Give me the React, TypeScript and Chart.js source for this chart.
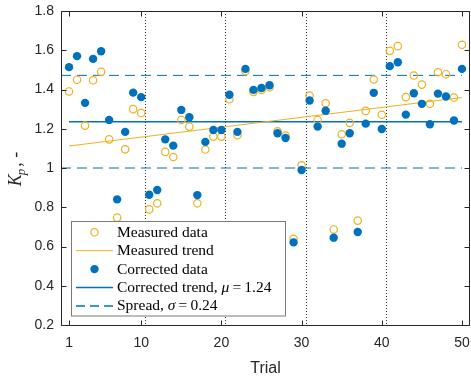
import React, { useEffect, useRef } from "react";
import { Chart, registerables } from "chart.js";

Chart.register(...registerables);

// ---------- data ----------
const trials = [
  1, 2, 3, 4, 5, 6, 7, 8, 9, 10,
  11, 12, 13, 14, 15, 16, 17, 18, 19, 20,
  21, 22, 23, 24, 25, 26, 27, 28, 29, 30,
  31, 32, 33, 34, 35, 36, 37, 38, 39, 40,
  41, 42, 43, 44, 45, 46, 47, 48, 49, 50,
];

const measuredData = [
  1.39, 1.45, 1.216, 1.447, 1.49, 1.146, 0.747, 1.095, 1.3, 1.28,
  0.789, 0.82, 1.082, 1.056, 1.245, 1.211, 0.82, 1.094, 1.16, 1.16,
  1.35, 1.167, 1.493, 1.388, 1.398, 1.412, 1.187, 1.165, 0.639, 1.014,
  1.369, 1.245, 1.33, 0.687, 1.172, 1.23, 0.732, 1.291, 1.451, 1.271,
  1.597, 1.621, 1.361, 1.471, 1.425, 1.327, 1.488, 1.478, 1.359, 1.628,
];

const correctedData = [
  1.514, 1.57, 1.332, 1.556, 1.595, 1.245, 0.84, 1.184, 1.384, 1.361,
  0.864, 0.888, 1.146, 1.114, 1.296, 1.259, 0.862, 1.133, 1.194, 1.194,
  1.373, 1.184, 1.505, 1.398, 1.408, 1.422, 1.177, 1.153, 0.621, 0.99,
  1.344, 1.211, 1.292, 0.645, 1.124, 1.177, 0.674, 1.226, 1.383, 1.199,
  1.519, 1.539, 1.272, 1.381, 1.327, 1.223, 1.379, 1.364, 1.242, 1.505,
];

const trendTrials = [1, 50];
const measuredTrend = [1.112, 1.359];

const correctedMean = 1.236;
const spreadSigma = 0.236;
const meanTrials = [1, 50];
const spreadTrials = [0, 50];

const blockBoundaries = [10.5, 20.5, 30.5, 40.5];
const xTickValues = [1, 10, 20, 30, 40, 50];
const yTickValues = [0.2, 0.4, 0.6, 0.8, 1, 1.2, 1.4, 1.6, 1.8];

const ORANGE = "#EDB120";
const BLUE = "#0072BD";
const AXIS = "#262626";

const pts = (xs: number[], ys: number[]) => xs.map((x, i) => ({ x, y: ys[i] }));

const decorPlugin = {
  id: "decor",
  beforeDatasetsDraw(chart: any) {
    const { ctx, chartArea, scales } = chart;
    const { top, bottom } = chartArea;
    ctx.save();
    ctx.strokeStyle = "#333333";
    ctx.lineWidth = 1;
    ctx.setLineDash([1, 2]);
    for (const b of blockBoundaries) {
      const px = Math.round(scales.x.getPixelForValue(b)) + 0.5;
      ctx.beginPath();
      ctx.moveTo(px, top);
      ctx.lineTo(px, bottom);
      ctx.stroke();
    }
    ctx.restore();
  },
  afterDraw(chart: any) {
    const { ctx, chartArea, scales } = chart;
    const { left, right, top, bottom } = chartArea;
    ctx.save();
    // frame
    ctx.strokeStyle = AXIS;
    ctx.lineWidth = 1;
    ctx.setLineDash([]);
    const L = Math.round(left) + 0.5;
    const R = Math.round(right) - 0.5;
    const T = Math.round(top) + 0.5;
    const B = Math.round(bottom) + 0.5;
    ctx.beginPath();
    ctx.rect(L, T, R - L, B - T);
    ctx.stroke();
    // inward ticks
    const tl = 5;
    ctx.beginPath();
    for (const v of xTickValues) {
      const px = Math.round(scales.x.getPixelForValue(v)) + 0.5;
      ctx.moveTo(px, B);
      ctx.lineTo(px, B - tl);
      ctx.moveTo(px, T);
      ctx.lineTo(px, T + tl);
    }
    for (const v of yTickValues) {
      const py = Math.round(scales.y.getPixelForValue(v)) + 0.5;
      ctx.moveTo(L, py);
      ctx.lineTo(L + tl, py);
      ctx.moveTo(R, py);
      ctx.lineTo(R - tl, py);
    }
    ctx.stroke();

    // y-axis label  K_p, -
    ctx.save();
    ctx.translate(15, (top + bottom) / 2 + 1);
    ctx.rotate(-Math.PI / 2);
    ctx.fillStyle = AXIS;
    ctx.textBaseline = "alphabetic";
    ctx.textAlign = "left";
    const fK = 'italic 18px "Liberation Serif"';
    const fp = 'italic 13px "Liberation Serif"';
    const fr = '18px "Liberation Serif"';
    ctx.font = fK;
    const wK = ctx.measureText("K").width;
    ctx.font = fp;
    const wp = ctx.measureText("p").width;
    ctx.font = fr;
    const wr = ctx.measureText(", -").width;
    const total = wK + wp + 1 + wr;
    let cx = -total / 2;
    ctx.font = fK;
    ctx.fillText("K", cx, 6);
    cx += wK - 1;
    ctx.font = fp;
    ctx.fillText("p", cx, 10);
    cx += wp + 2;
    ctx.font = fr;
    ctx.fillText(", -", cx, 6);
    ctx.restore();

    // legend
    const bx = Math.round(left) + 10.5;
    const by = Math.round(bottom) - 103.5;
    const bw = 214;
    const bh = 94.5;
    ctx.fillStyle = "#ffffff";
    ctx.fillRect(bx, by, bw, bh);
    ctx.strokeStyle = "#7a7a7a";
    ctx.lineWidth = 1;
    ctx.strokeRect(bx, by, bw, bh);

    const legendFont = '15.5px "Liberation Serif"';
    const legendItalic = 'italic 15.5px "Liberation Serif"';
    const entries: { kind: string; parts: [string, boolean][] }[] = [
      { kind: "open", parts: [["Measured data", false]] },
      { kind: "orangeLine", parts: [["Measured trend", false]] },
      { kind: "filled", parts: [["Corrected data", false]] },
      {
        kind: "blueLine",
        parts: [["Corrected trend, ", false], ["\u03bc", true], ["\u2009=\u2009" + correctedMean.toFixed(2), false]],
      },
      {
        kind: "dashed",
        parts: [["Spread, ", false], ["\u03c3", true], ["\u2009=\u2009" + spreadSigma.toFixed(2), false]],
      },
    ];
    const x0 = bx + 4.5;
    const x1 = bx + 41.5;
    const mx = bx + 23;
    const tx = bx + 45.5;
    entries.forEach((e, i) => {
      const ry = by + 10.8 + i * 18.4;
      ctx.setLineDash([]);
      if (e.kind === "open") {
        ctx.strokeStyle = ORANGE;
        ctx.lineWidth = 1.2;
        ctx.beginPath();
        ctx.arc(mx, ry, 3.7, 0, Math.PI * 2);
        ctx.stroke();
      } else if (e.kind === "filled") {
        ctx.fillStyle = BLUE;
        ctx.beginPath();
        ctx.arc(mx, ry, 4.2, 0, Math.PI * 2);
        ctx.fill();
      } else {
        ctx.strokeStyle = e.kind === "orangeLine" ? ORANGE : BLUE;
        ctx.lineWidth = e.kind === "orangeLine" ? 1 : 1.5;
        if (e.kind === "dashed") ctx.setLineDash([9, 5]);
        ctx.beginPath();
        ctx.moveTo(x0, ry);
        ctx.lineTo(x1, ry);
        ctx.stroke();
        ctx.setLineDash([]);
      }
      ctx.fillStyle = "#000000";
      ctx.textBaseline = "middle";
      ctx.textAlign = "left";
      let cxx = tx;
      for (const [txt, ital] of e.parts) {
        ctx.font = ital ? legendItalic : legendFont;
        ctx.fillText(txt, cxx, ry + 0.5);
        cxx += ctx.measureText(txt).width;
      }
    });
    ctx.restore();
  },
};

export default function App() {
  const canvasRef = useRef<HTMLCanvasElement | null>(null);

  useEffect(() => {
    document.body.style.margin = "0";
    const canvas = canvasRef.current;
    if (!canvas) return;
    const chart = new Chart(canvas, {
      type: "scatter",
      data: {
        datasets: [
          {
            label: "Corrected data",
            data: pts(trials, correctedData),
            backgroundColor: BLUE,
            borderWidth: 0,
            pointRadius: 4.2,
            order: 0,
          },
          {
            label: "Measured data",
            data: pts(trials, measuredData),
            backgroundColor: "rgba(0,0,0,0)",
            borderColor: ORANGE,
            borderWidth: 1.2,
            pointRadius: 3.7,
            order: 1,
          },
          {
            label: "Measured trend",
            data: pts(trendTrials, measuredTrend),
            showLine: true,
            borderColor: ORANGE,
            borderWidth: 1,
            pointRadius: 0,
            order: 2,
          },
          {
            label: "Corrected trend",
            data: pts(meanTrials, [correctedMean, correctedMean]),
            showLine: true,
            borderColor: BLUE,
            borderWidth: 1.5,
            pointRadius: 0,
            order: 3,
          },
          {
            label: "Spread upper",
            data: pts(spreadTrials, [correctedMean + spreadSigma, correctedMean + spreadSigma]),
            showLine: true,
            borderColor: BLUE,
            borderWidth: 1,
            borderDash: [10, 6],
            pointRadius: 0,
            order: 4,
          },
          {
            label: "Spread lower",
            data: pts(spreadTrials, [correctedMean - spreadSigma, correctedMean - spreadSigma]),
            showLine: true,
            borderColor: BLUE,
            borderWidth: 1,
            borderDash: [10, 6],
            pointRadius: 0,
            order: 4,
          },
        ],
      },
      options: {
        responsive: false,
        animation: false,
        layout: { autoPadding: false, padding: { top: 11, right: 1, left: 0, bottom: 0 } },
        plugins: {
          legend: { display: false },
          tooltip: { enabled: false },
        },
        scales: {
          x: {
            type: "linear",
            min: 0,
            max: 51,
            grid: { display: false, drawTicks: false },
            border: { display: false },
            afterBuildTicks: (s: any) => {
              s.ticks = xTickValues.map((v) => ({ value: v }));
            },
            afterFit: (s: any) => {
              s.height = 58;
              s.paddingLeft = 0;
              s.paddingRight = 0;
              s.paddingTop = 0;
              s.paddingBottom = 0;
            },
            ticks: {
              color: AXIS,
              padding: 10,
              maxRotation: 0,
              autoSkip: false,
              font: { family: '"Liberation Sans", Arial, sans-serif', size: 14 },
              callback: (v: any) => String(v),
            },
            title: {
              display: true,
              text: "Trial",
              color: AXIS,
              padding: { top: 0, bottom: 5 },
              font: { family: '"Liberation Sans", Arial, sans-serif', size: 16 },
            },
          },
          y: {
            type: "linear",
            min: 0.2,
            max: 1.8,
            grid: { display: false, drawTicks: false },
            border: { display: false },
            afterBuildTicks: (s: any) => {
              s.ticks = yTickValues.map((v) => ({ value: v }));
            },
            afterFit: (s: any) => {
              s.width = 61;
              s.paddingLeft = 0;
              s.paddingRight = 0;
              s.paddingTop = 0;
              s.paddingBottom = 0;
            },
            ticks: {
              color: AXIS,
              padding: 7,
              autoSkip: false,
              font: { family: '"Liberation Sans", Arial, sans-serif', size: 14 },
              callback: (v: any) => String(parseFloat(Number(v).toFixed(1))),
            },
          },
        },
      },
      plugins: [decorPlugin],
    } as any);
    return () => chart.destroy();
  }, []);

  return (
    <div style={{ width: 471, height: 383 }}>
      <canvas ref={canvasRef} width={471} height={383} style={{ display: "block" }} />
    </div>
  );
}
